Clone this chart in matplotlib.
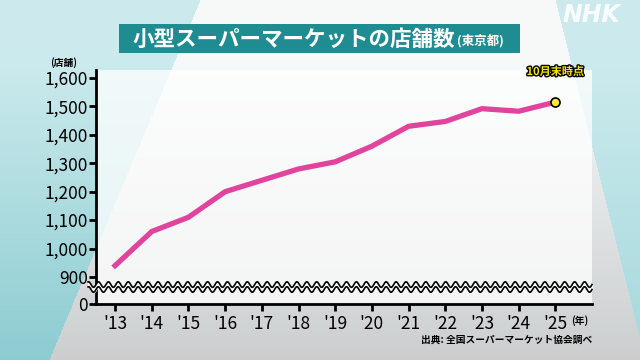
import numpy as np
import matplotlib
matplotlib.use("Agg")
import matplotlib.pyplot as plt
import matplotlib.patheffects as pe
from matplotlib.patches import Rectangle

plt.rcParams['font.family'] = ['Noto Sans CJK JP', 'DejaVu Sans']

# data
years = [2013, 2014, 2015, 2016, 2017, 2018, 2019, 2020, 2021, 2022, 2023, 2024, 2025]
stores = [940, 1060, 1110, 1200, 1240, 1280, 1305, 1360, 1430, 1447, 1492, 1483, 1515]
xlabels = ["'13", "'14", "'15", "'16", "'17", "'18", "'19", "'20", "'21", "'22", "'23", "'24", "'25"]
yticks = [0, 900, 1000, 1100, 1200, 1300, 1400, 1500, 1600]

title = "小型スーパーマーケットの店舗数"
title_sub = "(東京都)"
unit_y = "(店舗)"
unit_x = "(年)"
note = "10月末時点"
source = "出典: 全国スーパーマーケット協会調べ"

fig = plt.figure(figsize=(6.4, 3.6), dpi=100)

# background
bg = fig.add_axes([0, 0, 1, 1])
bg.set_axis_off()
H, W = 360, 640
yy, xx = np.mgrid[0:H, 0:W]
white = np.array([0.97, 0.98, 0.98])
grey = np.array([0.80, 0.81, 0.81])
teal = np.array([0.55, 0.80, 0.82])
lteal = np.array([0.80, 0.92, 0.93])
t = np.clip((yy - 60) / 300, 0, 1)[..., None]
img = white * (1 - t) + grey * t
left = (xx < 200 - yy * 0.42)[..., None]
img = np.where(left, lteal * (1 - t) + teal * t, img)
right = (xx > 600 + (yy - 180) * 0.25)[..., None]
img = np.where(right, lteal * (1 - t * 0.6) + teal * t * 0.6, img)
bg.imshow(img, extent=[0, W, 0, H], aspect='auto')
bg.set_xlim(0, W)
bg.set_ylim(0, H)

# title banner
bg.add_patch(Rectangle((119, 360 - 53), 401, 29, facecolor='#1f8c91', edgecolor='none'))
tt = bg.text(133, 360 - 39, title, color='white', fontsize=15.5, fontweight='bold',
             va='center', ha='left')
fig.canvas.draw()
ext = tt.get_window_extent()
bg.text(ext.x1 + 1, 360 - 41, title_sub, color='white', fontsize=9, fontweight='bold',
        va='center', ha='left')
bg.text(620, 345, "NHK", color='white', fontsize=17, fontweight='bold', style='italic',
        ha='right', va='center', alpha=0.9, family='DejaVu Sans')

# broken y axis: 0..900 squeezed
def fwd(v):
    v = np.asarray(v, dtype=float)
    return np.where(v < 900, v * 95 / 900, v - 805)

def inv(p):
    p = np.asarray(p, dtype=float)
    return np.where(p < 95, p * 900 / 95, p + 805)

ax = fig.add_axes([96 / 640, 1 - 304 / 360, (592 - 96) / 640, (304 - 70) / 360])
ax.set_facecolor((1, 1, 1, 0.75))
ax.set_yscale('function', functions=(fwd, inv))
ax.set_ylim(0, 1628)
ax.set_xlim(2012.48, 2026.0)

ax.plot(years, stores, color='#e0449c', lw=3.8, solid_joinstyle='miter', zorder=3)
ax.plot(years[-1], stores[-1], 'o', ms=6.5, mfc='#f7ea3c', mec='black', mew=1.2, zorder=4)
ax.annotate(note, (years[-1], stores[-1]), xytext=(0, 22), textcoords='offset points',
            ha='center', va='center', fontsize=8, fontweight='bold', color='#f7e600',
            path_effects=[pe.withStroke(linewidth=2, foreground='black')])

for s in ['top', 'right']:
    ax.spines[s].set_visible(False)
for s in ['left', 'bottom']:
    ax.spines[s].set_linewidth(2)
ax.set_yticks(yticks)
ax.set_yticklabels([f"{v:,}" for v in yticks])
ax.set_xticks(years)
ax.set_xticklabels(xlabels)
ax.tick_params(axis='both', direction='out', length=5, width=2, labelsize=12.5, pad=1)
ax.tick_params(axis='x', pad=3)
ax.tick_params(axis='y', pad=1)

# wavy break
xs = np.linspace(-0.016, 1.0, 600)
w = 0.012 * np.sin(xs * 2 * np.pi * 50)
y1, y2 = 0.083 + w, 0.062 + w
ax.fill_between(xs, y1, y2, transform=ax.transAxes, color='white', clip_on=False, zorder=5)
ax.plot(xs, y1, color='black', lw=1.2, transform=ax.transAxes, clip_on=False, zorder=6)
ax.plot(xs, y2, color='black', lw=1.2, transform=ax.transAxes, clip_on=False, zorder=6)

fig.text(64 / 640, 1 - 63 / 360, unit_y, fontsize=7, fontweight='bold', ha='center', va='center')
fig.text(580 / 640, 1 - 321 / 360, unit_x, fontsize=7, fontweight='bold', ha='center', va='center')
fig.text(592 / 640, 1 - 340 / 360, source, fontsize=7, fontweight='bold', ha='right', va='center')

fig.savefig("out.png", dpi=100)
